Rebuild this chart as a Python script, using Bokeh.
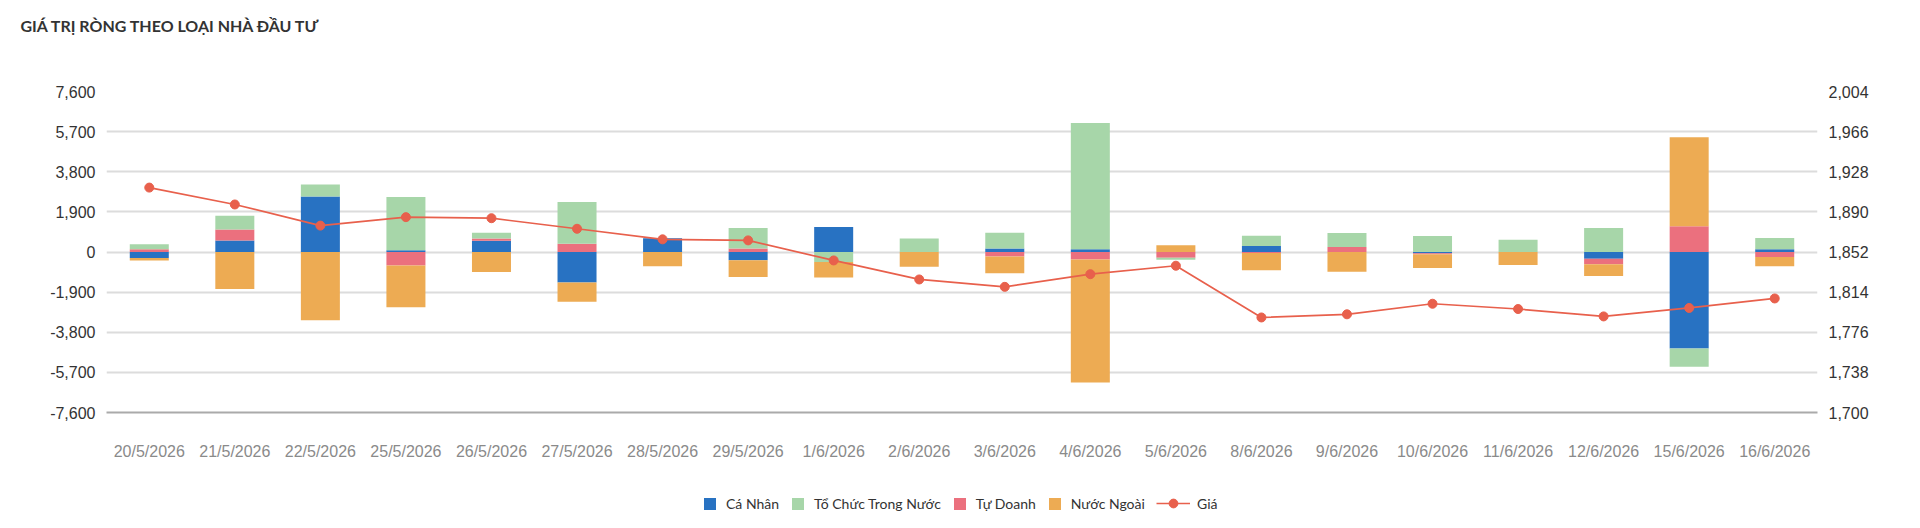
import numpy as np
from bokeh.plotting import figure
from bokeh.layouts import column
from bokeh.models import (Range1d, LinearAxis, FixedTicker, NumeralTickFormatter,
                          Legend, LegendItem, ColumnDataSource, FactorRange)
from bokeh.embed import file_html
from bokeh.resources import INLINE

title_text = "GIÁ TRỊ RÒNG THEO LOẠI NHÀ ĐẦU TƯ"

dates = ["20/5/2026", "21/5/2026", "22/5/2026", "25/5/2026", "26/5/2026", "27/5/2026",
         "28/5/2026", "29/5/2026", "1/6/2026", "2/6/2026", "3/6/2026", "4/6/2026",
         "5/6/2026", "8/6/2026", "9/6/2026", "10/6/2026", "11/6/2026", "12/6/2026",
         "15/6/2026", "16/6/2026"]

ca_nhan = [-280, 550, 2630, 80, 535, -1450, 650, -390, 1180, 0, 160, 125, 0, 280, 0, -60, 0, -315, -4570, 125]
to_chuc = [240, 645, 565, 2520, 270, 1970, 0, 975, -470, 645, 750, 5985, -95, 490, 660, 755, 585, 1135, -865, 535]
tu_doanh = [130, 520, 0, -645, 110, 395, 0, 160, 0, 0, -215, -350, -270, -45, 235, -50, 0, -270, 1215, -235]
nuoc_ngoai = [-120, -1750, -3230, -1970, -945, -900, -680, -790, -740, -695, -790, -5830, 315, -820, -930, -645, -615, -550, 4220, -440]
gia = [1913, 1897, 1877, 1885, 1884, 1874, 1864, 1863, 1844, 1826, 1819, 1831, 1839, 1790, 1793, 1803, 1798, 1791, 1799, 1808]

left_ticks = [-7600, -5700, -3800, -1900, 0, 1900, 3800, 5700, 7600]
right_ticks = [1700, 1738, 1776, 1814, 1852, 1890, 1928, 1966, 2004]

names = ["Cá Nhân", "Tổ Chức Trong Nước", "Tự Doanh", "Nước Ngoài"]
price_name = "Giá"
colors = {"Cá Nhân": "#2872c2", "Tổ Chức Trong Nước": "#a7d6a9",
          "Tự Doanh": "#eb707e", "Nước Ngoài": "#edab53"}
series = {"Cá Nhân": ca_nhan, "Tổ Chức Trong Nước": to_chuc,
          "Tự Doanh": tu_doanh, "Nước Ngoài": nuoc_ngoai}
stack_order = ["Cá Nhân", "Tự Doanh", "Tổ Chức Trong Nước", "Nước Ngoài"]
line_color = "#e8604c"
W = 1920

# ---------- header (title) ----------
head = figure(width=W, height=60, x_range=Range1d(0, 1), y_range=Range1d(0, 1),
              output_backend="svg", toolbar_location=None, x_axis_type=None, y_axis_type=None,
              min_border=0, outline_line_color=None, title=title_text)
head.grid.visible = False
head.title.align = "left"
head.title.offset = -86
head.title.vertical_align = "top"
head.title.standoff = 31
head.title.text_font = "Lato"
head.title.text_font_style = "bold"
head.title.text_font_size = "16px"
head.title.text_color = "#333333"

# ---------- main chart ----------
p = figure(width=W, height=420, x_range=FactorRange(*dates),
           y_range=Range1d(left_ticks[0], left_ticks[-1]),
           output_backend="svg", toolbar_location=None,
           min_border_left=106, min_border_right=103, min_border_top=31, min_border_bottom=68)
p.extra_y_ranges = {"price": Range1d(right_ticks[0], right_ticks[-1])}
p.outline_line_color = None

pos = np.zeros(len(dates))
neg = np.zeros(len(dates))
for nm in stack_order:
    v = np.array(series[nm], dtype=float)
    bottom = np.where(v >= 0, pos, neg)
    top = bottom + v
    pos = np.where(v >= 0, top, pos)
    neg = np.where(v < 0, top, neg)
    src = ColumnDataSource(dict(x=dates, bottom=bottom, top=top))
    p.vbar(x="x", bottom="bottom", top="top", width=0.456, source=src,
           fill_color=colors[nm], line_color=None)

p.line(dates, gia, y_range_name="price", line_color=line_color, line_width=1.7)
p.scatter(dates, gia, y_range_name="price", size=9, fill_color=line_color, line_color=line_color)

def style_axis(ax, standoff, color):
    ax.axis_line_color = None
    ax.major_tick_line_color = None
    ax.minor_tick_line_color = None
    ax.major_tick_out = 0
    ax.major_tick_in = 0
    ax.minor_tick_out = 0
    ax.minor_tick_in = 0
    ax.major_label_text_font = "Liberation Sans"
    ax.major_label_text_font_size = "16px"
    ax.major_label_text_color = color
    ax.major_label_standoff = standoff

p.yaxis.ticker = FixedTicker(ticks=left_ticks)
p.yaxis.formatter = NumeralTickFormatter(format="0,0")
for ax in p.yaxis:
    style_axis(ax, 11, "#333333")

ra = LinearAxis(y_range_name="price", ticker=FixedTicker(ticks=right_ticks),
                formatter=NumeralTickFormatter(format="0,0"))
style_axis(ra, 11, "#333333")
p.add_layout(ra, "right")

for ax in p.xaxis:
    style_axis(ax, 30, "#8a8a8a")
    ax.axis_line_color = "#aaaaaa"
    ax.axis_line_width = 2

p.xgrid.grid_line_color = None
p.ygrid.ticker = FixedTicker(ticks=left_ticks)
p.ygrid.grid_line_color = "#dcdcdc"
p.ygrid.grid_line_width = 2

# ---------- legend strip ----------
lg = figure(width=W, height=48, x_range=Range1d(0, 1), y_range=Range1d(0, 1),
            output_backend="svg", toolbar_location=None, x_axis_type=None, y_axis_type=None,
            min_border=0, outline_line_color=None)
lg.grid.visible = False
items1 = []
for nm in names:
    r = lg.vbar(x=[-1000], top=[-1000], bottom=[-1001], width=1, fill_color=colors[nm], line_color=None)
    items1.append(LegendItem(label=nm, renderers=[r]))
lr = lg.line(x=[-1000, -999], y=[-1000, -1000], line_color=line_color, line_width=1.7)
sr = lg.scatter(x=[-1000], y=[-1000], size=9, fill_color=line_color, line_color=line_color)

common = dict(orientation="horizontal", padding=0, margin=0, border_line_color=None,
              background_fill_alpha=0, label_text_font="Lato", label_text_font_size="14px",
              label_text_color="#333333")
leg1 = Legend(items=items1, location=(596, 16), glyph_width=15, glyph_height=15,
              label_standoff=9, spacing=11, **common)
leg2 = Legend(items=[LegendItem(label=price_name, renderers=[lr, sr])], location=(1050, 14),
              glyph_width=34, glyph_height=22, label_standoff=7, **common)
lg.add_layout(leg1, "center")
lg.add_layout(leg2, "center")

layout = column(head, p, lg, spacing=0)
open("out.html", "w").write(file_html(layout, INLINE))
